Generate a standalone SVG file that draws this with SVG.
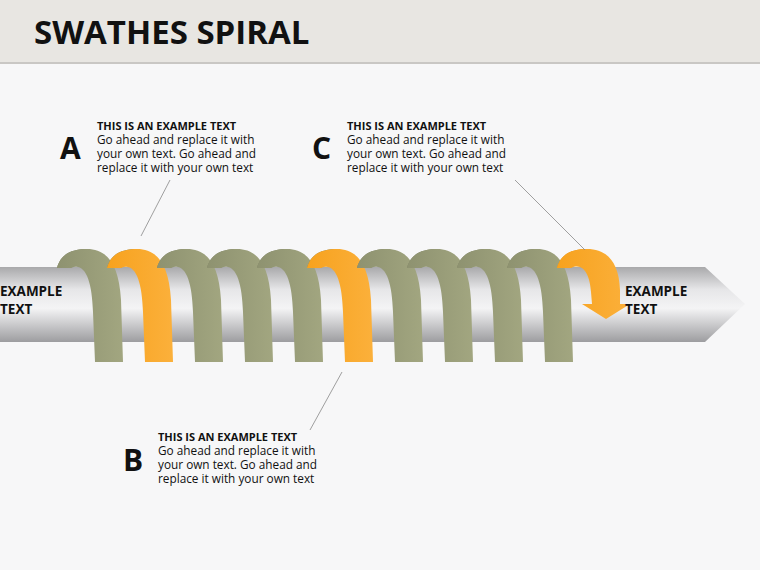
<svg xmlns="http://www.w3.org/2000/svg" width="760" height="570" viewBox="0 0 760 570">
<defs>
<linearGradient id="tube" x1="0" y1="0" x2="0" y2="1">
<stop offset="0" stop-color="#a9a9ab"/><stop offset="0.3" stop-color="#e6e6e8"/><stop offset="0.55" stop-color="#f4f4f5"/><stop offset="1" stop-color="#9d9da0"/>
</linearGradient>
<linearGradient id="ol" x1="0" y1="0" x2="1" y2="0"><stop offset="0" stop-color="#8e9270"/><stop offset="1" stop-color="#a2a680"/></linearGradient>
<linearGradient id="or" x1="0" y1="0" x2="1" y2="0"><stop offset="0" stop-color="#f7a21e"/><stop offset="1" stop-color="#fbb03b"/></linearGradient>
<style>
.t{font-family:"Open Sans","DejaVu Sans",sans-serif;fill:#111}
.h{font-size:11px;font-weight:bold}
.b{font-size:11.8px}
.L{font-size:30px;font-weight:bold}
.e{font-family:"Open Sans","DejaVu Sans",sans-serif;font-size:13.5px;font-weight:bold;fill:#111}
.back{fill:#7d8163}
.obk{fill:#e48c10}
</style>
<g id="coil">
<path class="back" d="M0,268 C4,252 18,249 30,249 L40,256 C28,256 18,262 14,268 Z"/>
<path d="M0,268 C4,252 18,249 30,249 C50,249 62,264 64,300 L66,362 L38,362 L36,312 C35,280 28,262 14,268 Z"/>
</g>
</defs>
<rect width="760" height="570" fill="#f7f7f8"/>
<rect width="760" height="62" fill="#e8e6e2"/>
<rect y="62" width="760" height="2" fill="#c9c7c4"/>
<text x="34" y="44" font-family="'Open Sans','DejaVu Sans',sans-serif" font-size="33" font-weight="bold" fill="#111">SWATHES SPIRAL</text>
<g id="tube-arrow">
<path d="M0,267 L705,267 L745,304 L705,342 L0,342 Z" fill="url(#tube)"/>
</g>
<g id="coils">
<use href="#coil" x="57" fill="url(#ol)"/>
<use href="#coil" x="107" fill="url(#or)"/>
<use href="#coil" x="157" fill="url(#ol)"/>
<use href="#coil" x="207" fill="url(#ol)"/>
<use href="#coil" x="257" fill="url(#ol)"/>
<use href="#coil" x="307" fill="url(#or)"/>
<use href="#coil" x="357" fill="url(#ol)"/>
<use href="#coil" x="407" fill="url(#ol)"/>
<use href="#coil" x="457" fill="url(#ol)"/>
<use href="#coil" x="507" fill="url(#ol)"/>
<g id="final-arrow">
<path class="obk" d="M557,268 C561,252 575,249 587,249 L597,256 C585,256 575,262 571,268 Z"/>
<path fill="url(#or)" d="M557,268 C561,252 575,249 587,249 C607,249 619,262 620,290 L620,304 L630,304 L606,319 L582,304 L592,304 L591,292 C590,276 584,262 571,268 Z"/>
</g>
</g>
<text class="e" x="0" y="296">EXAMPLE</text><text class="e" x="0" y="314">TEXT</text>
<text class="e" x="625" y="296">EXAMPLE</text><text class="e" x="625" y="314">TEXT</text>
<g id="connectors" stroke="#888" stroke-width="0.8" fill="none">
<line x1="170" y1="180" x2="141" y2="236"/>
<line x1="515" y1="180" x2="585" y2="250"/>
<line x1="342" y1="372" x2="310" y2="430"/>
</g>
<g id="nodeA">
<text class="t L" x="60" y="159">A</text>
<text class="t h" x="97" y="130">THIS IS AN EXAMPLE TEXT</text>
<text class="t b" x="97" y="144">Go ahead and replace it with</text>
<text class="t b" x="97" y="158">your own text. Go ahead and</text>
<text class="t b" x="97" y="172">replace it with your own text</text>
</g>
<g id="nodeC">
<text class="t L" x="312" y="159">C</text>
<text class="t h" x="347" y="130">THIS IS AN EXAMPLE TEXT</text>
<text class="t b" x="347" y="144">Go ahead and replace it with</text>
<text class="t b" x="347" y="158">your own text. Go ahead and</text>
<text class="t b" x="347" y="172">replace it with your own text</text>
</g>
<g id="nodeB">
<text class="t L" x="123" y="471">B</text>
<text class="t h" x="158" y="441">THIS IS AN EXAMPLE TEXT</text>
<text class="t b" x="158" y="455">Go ahead and replace it with</text>
<text class="t b" x="158" y="469">your own text. Go ahead and</text>
<text class="t b" x="158" y="483">replace it with your own text</text>
</g>
</svg>
